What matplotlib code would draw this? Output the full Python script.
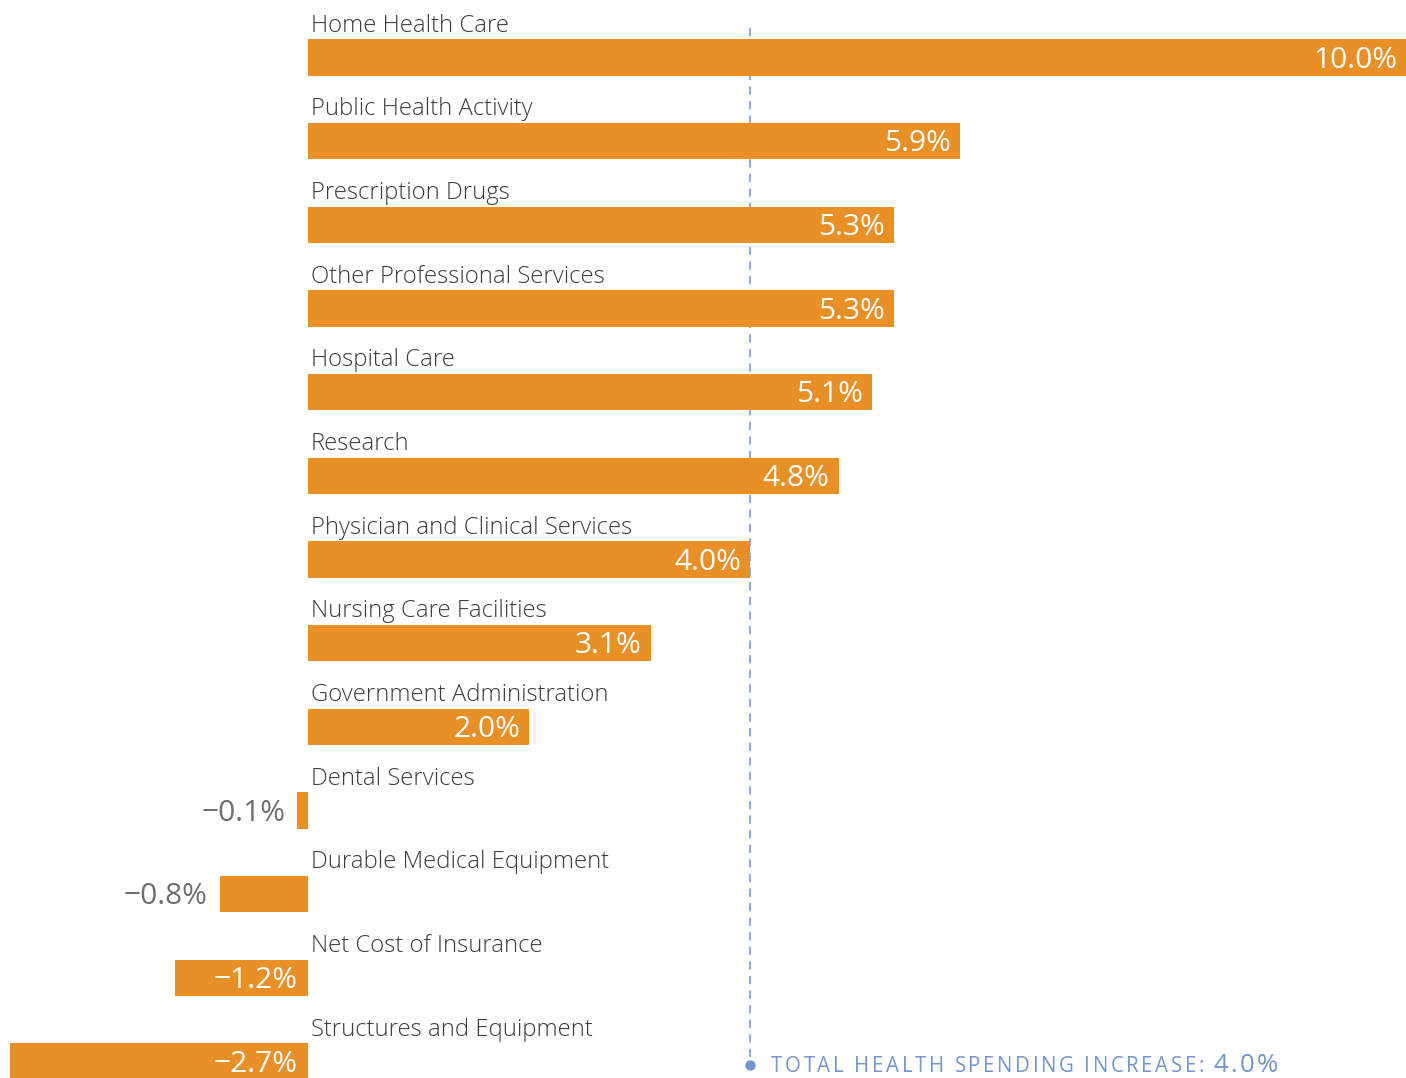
import matplotlib
matplotlib.use("Agg")
import matplotlib.pyplot as plt
from matplotlib.transforms import offset_copy

categories = ["Home Health Care", "Public Health Activity", "Prescription Drugs",
              "Other Professional Services", "Hospital Care", "Research",
              "Physician and Clinical Services", "Nursing Care Facilities",
              "Government Administration", "Dental Services",
              "Durable Medical Equipment", "Net Cost of Insurance",
              "Structures and Equipment"]
growth = [10.0, 5.9, 5.3, 5.3, 5.1, 4.8, 4.0, 3.1, 2.0, -0.1, -0.8, -1.2, -2.7]
total_increase = 4.0
total_label = "TOTAL HEALTH SPENDING INCREASE:"

BAR = "#E88F26"
LINE = "#8FAEDC"
TOTAL = "#7496CF"
LABEL = "#3C3C3C"
OUTSIDE = "#6E6E6E"

plt.rcParams['font.family'] = ['Open Sans', 'DejaVu Sans']

fig = plt.figure(figsize=(14.06, 10.78), dpi=100)
ax = fig.add_axes([0, 0, 1, 1])
ax.set_xlim(-2.786, 9.932)
ax.set_ylim(12.197, -0.687)
ax.axis('off')
renderer = fig.canvas.get_renderer()
xmax = ax.get_xlim()[1]


def spaced_text(x, y, s, size, tracking, **kw):
    """Draw s letter by letter with extra tracking (dots); returns the end offset."""
    dx = 0.0
    space_w = 0.26 * size * 100 / 72
    for ch in s:
        if ch == ' ':
            dx += space_w + tracking
            continue
        tr = offset_copy(ax.transData, fig=fig, x=dx, y=0, units='dots')
        t = ax.text(x, y, ch, transform=tr, fontsize=size, ha='left',
                    va='baseline', **kw)
        dx += t.get_window_extent(renderer).width + tracking
    return dx


ypos = list(range(len(categories)))
ax.barh(ypos, growth, height=0.436, color=BAR, zorder=2)

for y, name, v in zip(ypos, categories, growth):
    ax.annotate(name, (0, y), xytext=(2.2, 18.6), textcoords='offset points',
                ha='left', va='baseline', fontsize=17.2, color=LABEL,
                fontweight='light')
    txt = f"{v:.1f}%".replace('-', '\u2212')
    if v > 0:
        ax.annotate(txt, (min(v, xmax), y), xytext=(-6.5, -7.3),
                    textcoords='offset points', ha='right', va='baseline',
                    fontsize=21.5, color='white', zorder=3)
    elif abs(v) >= 1.0:
        ax.annotate(txt, (0, y), xytext=(-7.5, -7.3), textcoords='offset points',
                    ha='right', va='baseline', fontsize=21.5, color='white',
                    zorder=3)
    else:
        ax.annotate(txt, (v, y), xytext=(-8.5, -7.3), textcoords='offset points',
                    ha='right', va='baseline', fontsize=21.5, color=OUTSIDE,
                    zorder=3)

# dashed marker for the overall increase, behind the bars
ax.plot([total_increase, total_increase], [-0.353, 12.04], color=LINE, lw=1.5,
        linestyle=(0, (4, 3)), zorder=1)
ax.plot([total_increase], [12.04], 'o', color=TOTAL, ms=6.5, zorder=3)

# letter-spaced caption next to the marker
x0, yb = total_increase + 0.19, 12.12
end = spaced_text(x0, yb, total_label, 14.8, 2.6, color=TOTAL)
x1 = x0 + (end + 7) / 110.55
spaced_text(x1, yb, f"{total_increase:.1f}%", 18.5, 2.2, color=TOTAL)

fig.savefig("out.png", dpi=100)
